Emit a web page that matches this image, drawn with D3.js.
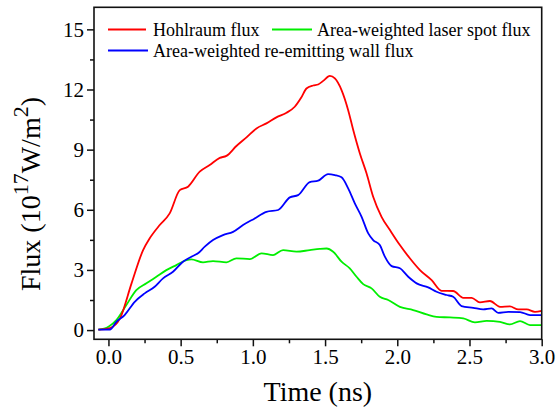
<!DOCTYPE html>
<html>
<head>
<meta charset="utf-8">
<script src="https://cdn.jsdelivr.net/npm/d3@7"></script>
<style>
html,body{margin:0;padding:0;background:#fff;}
svg{display:block;}
svg text{font-family:"Liberation Serif","Times New Roman",serif !important;fill:#000;}
</style>
</head>
<body>
<svg id="chart" width="556" height="408"></svg>
<script>
// ---- data ----
const hohlraumTime = [-0.07,0.01,0.08,0.16,0.24,0.285,0.355,0.424,0.494,0.551,0.632,0.701,0.771,0.817,0.886,0.956,1.025,1.094,1.163,1.233,1.29,1.335,1.371,1.417,1.452,1.487,1.533,1.568,1.614,1.66,1.695,1.741,1.787,1.833,1.891,1.949,2.018,2.087,2.157,2.238,2.307,2.387,2.457,2.515,2.572,2.642,2.711,2.78,2.838,2.896,2.953,3.0];
const hohlraumFlux = [0.02,0.1,0.58,2.33,3.99,4.57,5.24,5.82,6.98,7.15,7.9,8.23,8.59,8.69,9.18,9.61,10.06,10.31,10.61,10.84,11.14,11.6,12.05,12.2,12.25,12.43,12.68,12.55,11.97,10.97,9.98,8.81,7.82,6.65,5.65,4.99,4.24,3.58,2.99,2.49,1.96,1.95,1.61,1.61,1.38,1.45,1.16,1.18,1.03,1.03,0.91,0.96];

const laserTime = [-0.07,0.0,0.055,0.124,0.193,0.263,0.332,0.401,0.47,0.54,0.574,0.655,0.724,0.817,0.886,0.979,1.06,1.14,1.209,1.302,1.394,1.463,1.51,1.556,1.614,1.671,1.718,1.764,1.822,1.879,1.937,2.018,2.11,2.203,2.272,2.365,2.457,2.538,2.619,2.711,2.78,2.85,2.919,3.0];
const laserFlux = [0.02,0.17,0.5,1.25,1.99,2.33,2.66,2.99,3.24,3.49,3.53,3.38,3.44,3.38,3.58,3.54,3.83,3.74,3.99,3.91,3.99,4.05,4.07,3.91,3.41,3.08,2.66,2.29,2.08,1.66,1.5,1.16,1.0,0.78,0.66,0.63,0.58,0.38,0.46,0.41,0.28,0.45,0.25,0.25];

const wallTime = [-0.07,0.01,0.055,0.112,0.182,0.251,0.32,0.378,0.447,0.516,0.574,0.62,0.667,0.724,0.793,0.863,0.932,1.013,1.094,1.175,1.256,1.313,1.394,1.452,1.521,1.568,1.614,1.66,1.706,1.753,1.799,1.833,1.879,1.914,1.961,2.018,2.076,2.134,2.214,2.272,2.342,2.387,2.445,2.526,2.595,2.653,2.699,2.769,2.85,2.919,3.0];
const wallFlux = [0.02,0.03,0.41,0.75,1.41,1.83,2.16,2.58,2.91,3.41,3.66,3.83,4.16,4.49,4.74,4.9,5.24,5.57,5.9,5.99,6.62,6.73,7.38,7.45,7.78,7.73,7.62,7.07,6.32,5.65,4.82,4.49,4.24,3.66,3.19,3.08,2.66,2.33,2.13,1.91,1.75,1.66,1.2,1.11,1.03,1.08,0.86,0.91,0.9,0.75,0.75];

const seriesNames = ["Hohlraum flux","Area-weighted laser spot flux","Area-weighted re-emitting wall flux"];
const seriesColors = ["#ff0000","#00ee00","#0000ff"];

const xMajorTicks = [0,0.5,1.0,1.5,2.0,2.5,3.0];
const xMinorTicks = [0.25,0.75,1.25,1.75,2.25,2.75];
const yMajorTicks = [0,3,6,9,12,15];
const yMinorTicks = [1.5,4.5,7.5,10.5,13.5];

// ---- layout ----
const svg = d3.select("#chart");
const L = 94, R = 541.7, T = 7.3, B = 339.3;
const x = d3.scaleLinear().domain([-0.1, 3.0]).range([L, R]);
const y = d3.scaleLinear().domain([-0.46, 16.1]).range([B, T]);
const serif = '"Liberation Serif","Times New Roman",serif';

// curves
const line = d3.line().x(d => x(d[0])).y(d => y(d[1])).curve(d3.curveMonotoneX);
const series = [
  {name: seriesNames[1], color: seriesColors[1], pts: d3.zip(laserTime, laserFlux)},
  {name: seriesNames[0], color: seriesColors[0], pts: d3.zip(hohlraumTime, hohlraumFlux)},
  {name: seriesNames[2], color: seriesColors[2], pts: d3.zip(wallTime, wallFlux)}
];
svg.append("g").selectAll("path").data(series).join("path")
  .attr("d", d => line(d.pts))
  .attr("fill", "none")
  .attr("stroke", d => d.color)
  .attr("stroke-width", 1.8)
  .attr("stroke-linejoin", "round");

// axes
const fmt = d3.format(".1f");
const xAxis = svg.append("g").attr("transform", `translate(0,${B})`)
  .call(d3.axisBottom(x).tickValues(xMajorTicks).tickFormat(fmt).tickSize(7).tickSizeOuter(0).tickPadding(3));
const xMinor = svg.append("g").attr("transform", `translate(0,${B})`)
  .call(d3.axisBottom(x).tickValues(xMinorTicks).tickFormat("").tickSize(4).tickSizeOuter(0));
const yAxis = svg.append("g").attr("transform", `translate(${L},0)`)
  .call(d3.axisLeft(y).tickValues(yMajorTicks).tickFormat(d3.format("d")).tickSize(7).tickSizeOuter(0).tickPadding(3));
const yMinor = svg.append("g").attr("transform", `translate(${L},0)`)
  .call(d3.axisLeft(y).tickValues(yMinorTicks).tickFormat("").tickSize(4).tickSizeOuter(0));
[xAxis, xMinor, yAxis, yMinor].forEach(g => {
  g.attr("font-family", serif).attr("font-size", 21);
  g.select(".domain").remove();
  g.selectAll(".tick line").attr("stroke", "#111").attr("stroke-width", 1.5);
  g.selectAll(".tick text").style("font-family", serif).style("font-size", "21px").attr("fill", "#000");
});

// frame
svg.append("rect").attr("x", L).attr("y", T).attr("width", R - L).attr("height", B - T)
  .attr("fill", "none").attr("stroke", "#111").attr("stroke-width", 1.6);

// axis titles
svg.append("text").attr("x", (L + R) / 2).attr("y", 401).attr("text-anchor", "middle")
  .attr("font-size", 28).text("Time (ns)");

const yt = svg.append("text").attr("transform", "translate(40,194) rotate(-90)")
  .attr("text-anchor", "middle").attr("font-size", 28);
yt.append("tspan").text("Flux (10");
yt.append("tspan").attr("font-size", 22).attr("dy", -12).text("17");
yt.append("tspan").attr("dy", 12).text("W/m");
yt.append("tspan").attr("font-size", 22).attr("dy", -12).text("2");
yt.append("tspan").attr("dy", 12).text(")");

// legend
const legendItems = [
  {name: seriesNames[0], color: seriesColors[0], x1: 108, x2: 146, tx: 153, ly: 29.5},
  {name: seriesNames[1], color: seriesColors[1], x1: 272, x2: 312, tx: 317, ly: 29.5},
  {name: seriesNames[2], color: seriesColors[2], x1: 108, x2: 148, tx: 153, ly: 50.5}
];
const lg = svg.append("g").selectAll("g").data(legendItems).join("g");
lg.append("line").attr("x1", d => d.x1).attr("x2", d => d.x2).attr("y1", d => d.ly).attr("y2", d => d.ly)
  .attr("stroke", d => d.color).attr("stroke-width", 1.8);
lg.append("text").attr("x", d => d.tx).attr("y", d => d.ly + 6).attr("font-size", 18).text(d => d.name);
</script>
</body>
</html>
